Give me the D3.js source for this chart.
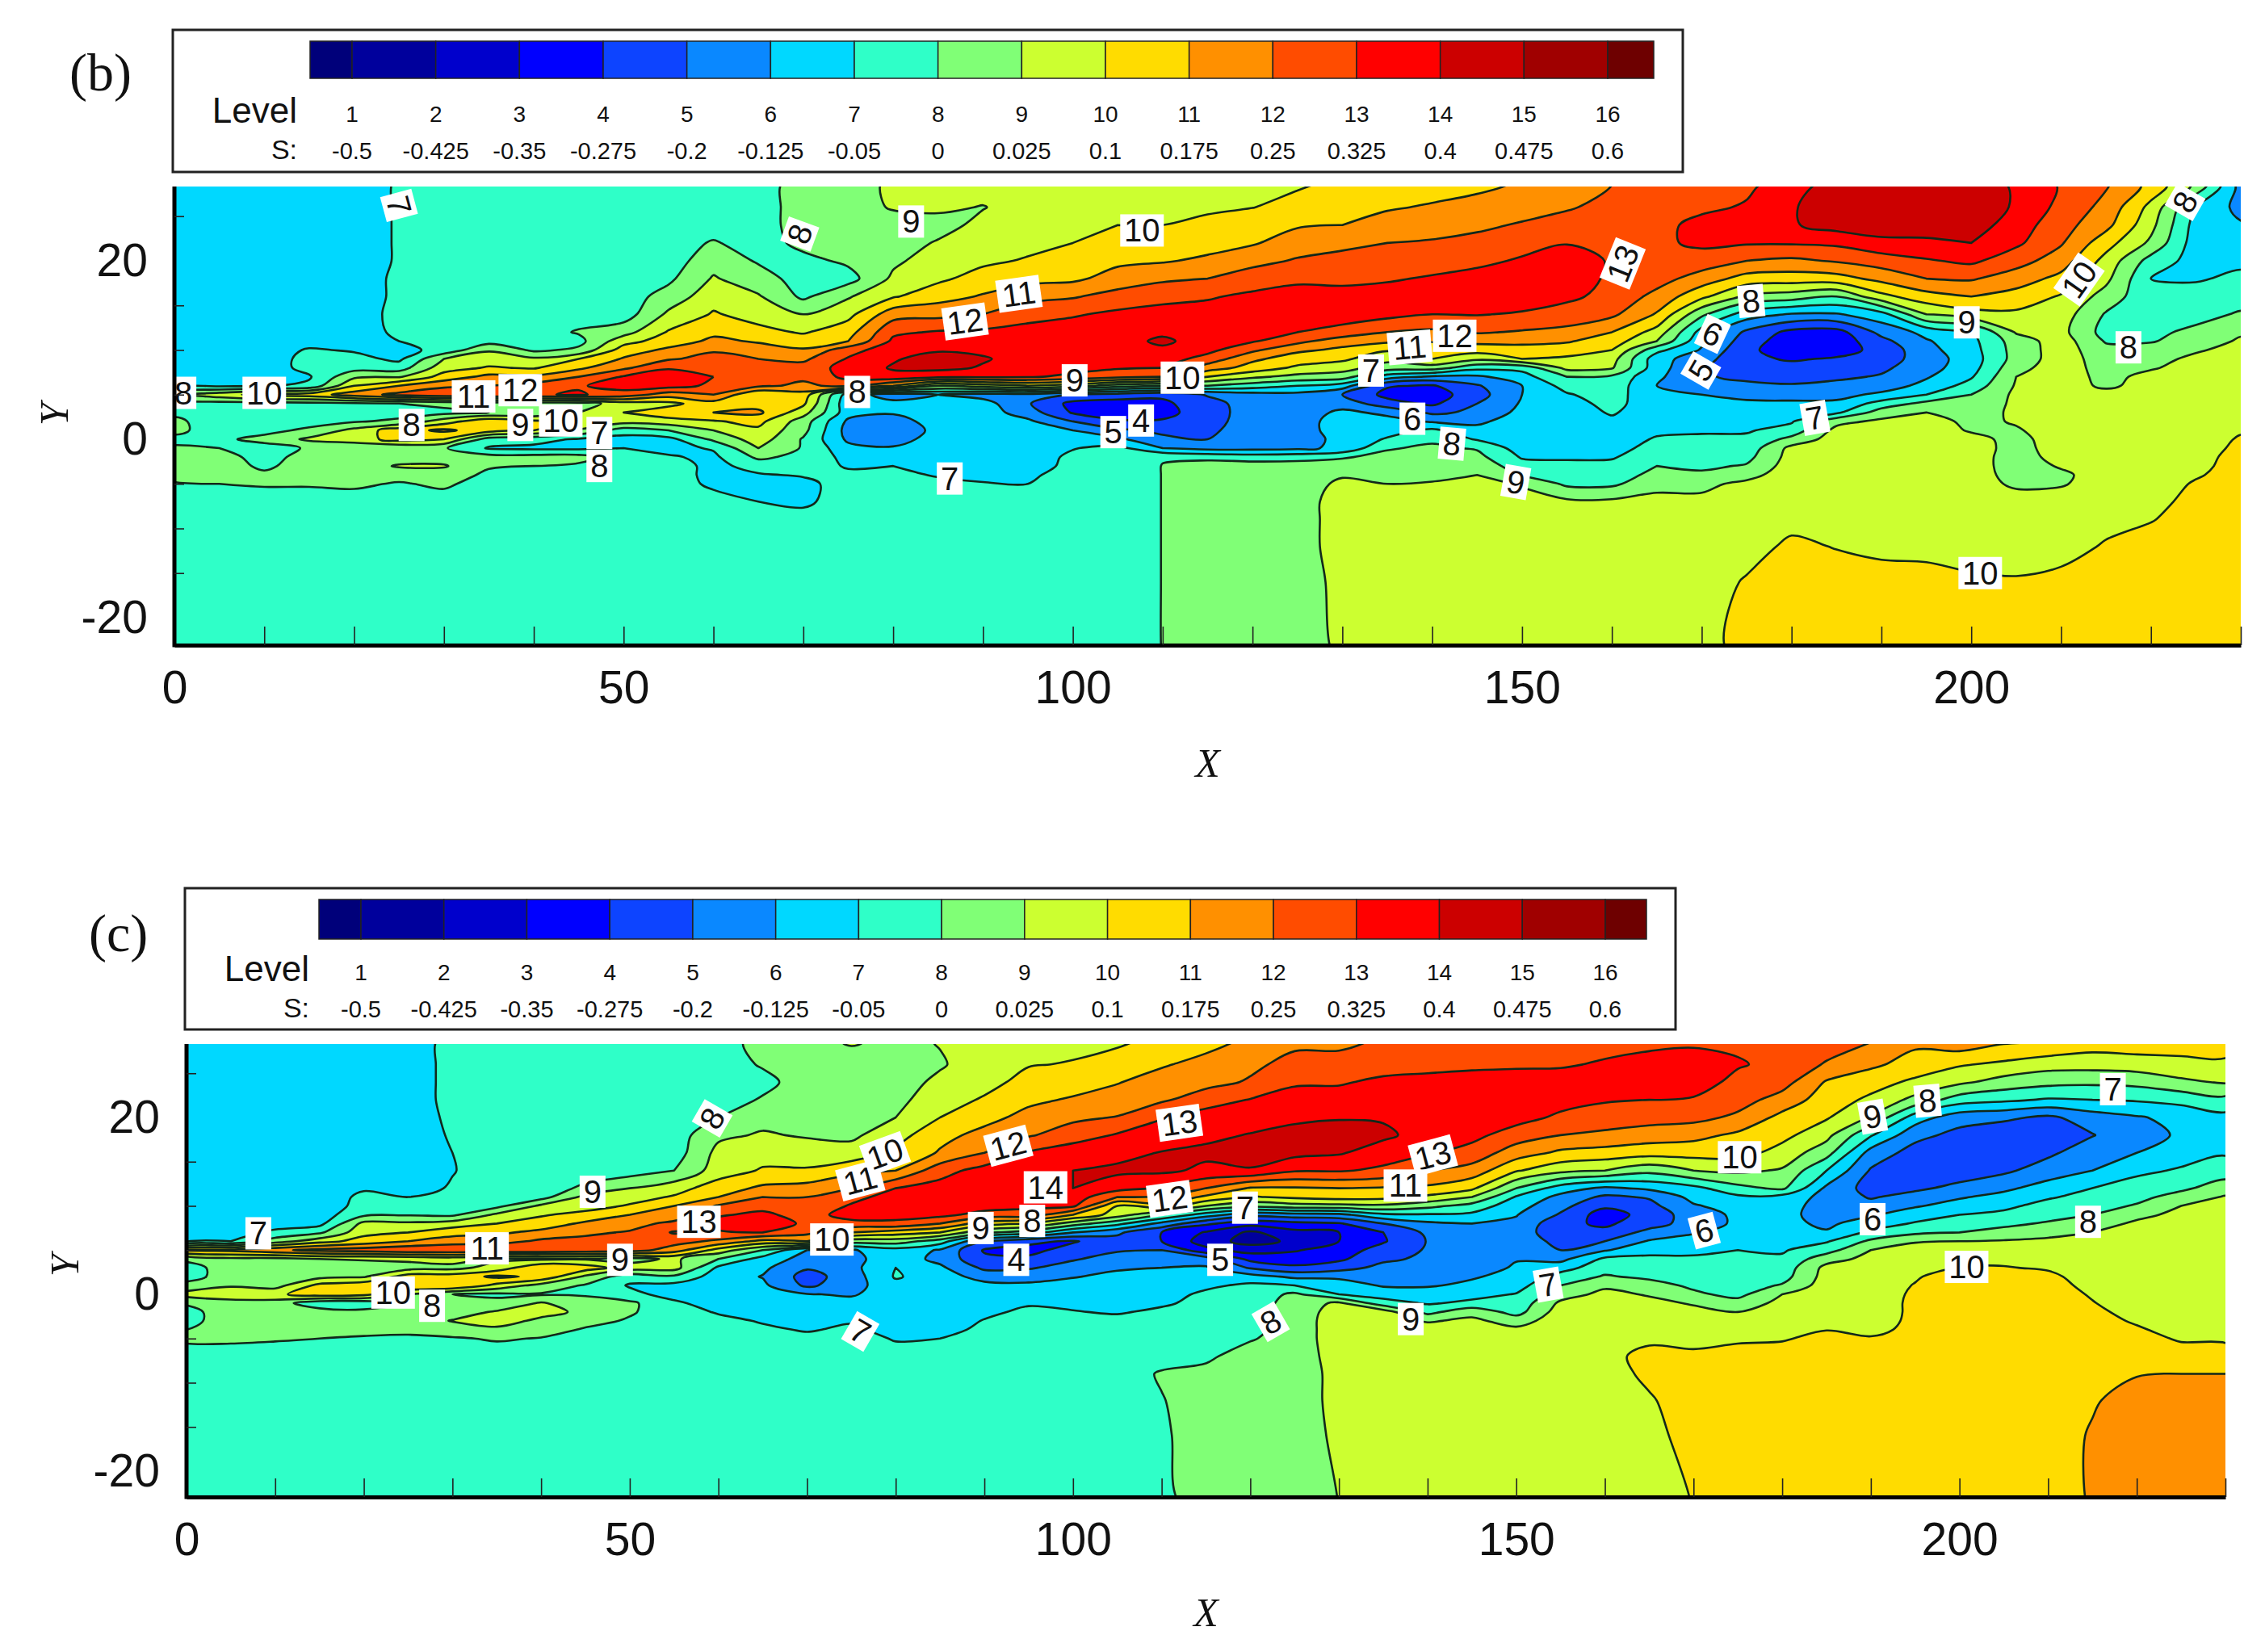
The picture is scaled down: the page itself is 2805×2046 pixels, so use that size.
<!DOCTYPE html>
<html>
<head>
<meta charset="utf-8">
<style>
    html, body { margin: 0; background: white; }
    text { font-family: 'Liberation Sans', Arial, sans-serif; fill: #111; }
    .panelTag, .axisName { font-family: 'Liberation Serif', serif; }
    .axisName { font-style: italic; }
</style>
<script src="https://cdn.jsdelivr.net/npm/d3@7"></script>
</head>
<body>
<div id="chart"></div>
<script>
var levelNames = [1, 2, 3, 4, 5, 6, 7, 8, 9, 10, 11, 12, 13, 14, 15, 16];
var sValues = ['-0.5', '-0.425', '-0.35', '-0.275', '-0.2', '-0.125', '-0.05', '0', '0.025', '0.1', '0.175', '0.25', '0.325', '0.4', '0.475', '0.6'];
var bandColors = ['#00007a', '#00009c', '#0000cc', '#0000ff', '#0d44ff', '#0a88ff', '#00d8ff', '#2fffc8', '#80ff76', '#ccff30', '#ffdc00', '#ff9000', '#ff4c00', '#ff0000', '#cc0000', '#a00000', '#6e0000'];

var xTicks = [0, 10, 20, 30, 40, 50, 60, 70, 80, 90, 100, 110, 120, 130, 140, 150, 160, 170, 180, 190, 200, 210, 220, 230];
var yLabelTicks = [-20, 0, 20];
var yMinorTicks = [-15, -10, -5, 5, 10, 15, 25];

// sample stations of the level field
var gridX = [0, 5, 10, 15, 20, 25, 30, 35, 40, 45, 50, 55, 60, 65, 70, 75, 80, 85, 90, 95, 100, 105, 110, 115, 120, 125, 130, 135, 140, 145, 150, 155, 160, 165, 170, 175, 180, 185, 190, 195, 200, 205, 210, 215, 220, 225, 230];
var gridY = [-23, -16, -12, -9, -7, -5, -4, -3, -2, -1, 0, 1, 2, 3, 4, 5, 6, 7, 8, 9, 10, 11, 12, 14, 16, 18, 20, 22, 24, 26, 28.5];

// level value, one line per X station, going up in Y
var fieldB = [
    [7.5,7.5,7.5,7.5,7.5, 7.9,8.4,8.5,8.5,8.1, 7.8,8.2,8.2,7.8,7.5, 9,6.8,6.5,6.5,6.5, 6.5,6.5,6.5,6.5,6.5, 6.5,6.5,6.5,6.5,6.5,6.5],
    [7.5,7.5,7.5,7.5,7.5, 8,8.4,8.5,8.4,8, 7.8,7.6,7.5,7.5,7.6, 9.6,6.8,6.5,6.5,6.5, 6.5,6.5,6.5,6.5,6.5, 6.5,6.5,6.5,6.5,6.5,6.5],
    [7.5,7.5,7.5,7.5,7.5, 8.1,8.2,7.8,7.6,7.6, 8.3,7.7,7.5,7.5,7.6, 10.4,6.9,6.5,6.5,6.5, 6.5,6.5,6.5,6.5,6.5, 6.5,6.5,6.5,6.5,6.5,6.5],
    [7.5,7.5,7.5,7.5,7.5, 8.1,8.4,8.5,8.4,8.1, 9.2,8.2,7.6,7.5,7.7, 10.5,7.2,6.9,7.3,7.3, 7.1,6.6,6.5,6.5,6.5, 6.5,6.5,6.5,6.5,6.5,6.5],
    [7.5,7.5,7.5,7.5,7.5, 8.2,8.5,8.5,8.5,8.2, 9.5,9.3,7.9,7.5,7.8, 11.5,10,8.8,7.6,7.3, 6.9,6.6,6.5,6.5,6.5, 6.5,6.5,6.5,6.5,6.5,6.5],
    [7.5,7.5,7.5,7.5,7.5, 7.9,8.4,9.1,8.5,8.1, 10.4,10.6,8.2,7.6,8, 12.3,11,8.9,7.5,6.8, 6.7,7,7.2,7.3,7.2, 7.2,7.1,7.1,7.1,7.1,7.1],
    [7.5,7.5,7.5,7.5,7.5, 8.2,8.5,9.1,8.5,8.1, 10,11.2,9.5,7.7,8.3, 12.7,11.8,10.4,9.6,9, 7.3,7.4,7.5,7.5,7.5, 7.5,7.5,7.5,7.5,7.5,7.5],
    [7.5,7.5,7.5,7.5,7.5, 7.5,7.8,8.1,8.4,6.9, 7.5,10.5,10.8,8,8.4, 12.9,12,11.3,10.1,9.5, 8.9,7.6,7.5,7.5,7.5, 7.5,7.5,7.5,7.5,7.5,7.5],
    [7.5,7.5,7.5,7.5,7.5, 7.5,7.6,8,8.4,6.8, 7.3,10,10.2,8.1,8.5, 12.9,12.4,11.2,9.9,9.2, 7.8,7.5,7.5,7.5,7.5, 7.5,7.5,7.5,7.5,7.5,7.5],
    [7.5,7.5,7.5,7.5,7.5, 7.5,7.5,7.8,8.4,6.8, 6.9,8.9,10,9,8.5, 13.1,12.9,12,10.8,10, 8.2,7.7,8.1,7.5,7.5, 7.5,7.5,7.5,7.5,7.5,7.5],
    [7.5,7.5,7.5,7.5,7.5, 7.5,7.5,7.5,7.5,7, 6.6,7.5,9.4,10,9.5, 12.6,13.4,13.1,11.8,11.1, 10.5,9.6,8.6,7.5,7.5, 7.5,7.5,7.5,7.5,7.5,7.5],
    [7.5,7.5,7.5,7.5,7.5, 7.5,7.5,7.5,7.1,6.7, 6.7,8,9.6,10.6,9.7, 11.5,13.4,13.6,12.9,11.9, 11.2,10.5,10.1,9.2,8.4, 7.8,7.5,7.5,7.5,7.5,7.5],
    [7.5,7.5,7.5,7.5,7.4, 6.8,6.7,6.7,6.8,7.1, 8.2,9,9.9,11,10.6, 12,12.8,13,12.7,12.3, 11.9,11.2,10.8,10.1,9.6, 9.1,8.6,8.1,7.5,7.5,7.5],
    [7.5,7.5,7.5,7.5,7, 6.7,6.9,7.4,8.2,9, 9.5,9.8,10.3,11.2,10.6, 10,12.2,12.4,12.3,12, 11.4,10.9,10.3,9.6,9.1, 8.4,7.9,7.5,7.5,7.5,7.5],
    [7.5,7.5,7.5,7.4,6.8, 6.7,7.1,7.5,7.7,7.9, 7.9,8.3,8.5,9.4,10.2, 10.6,11.8,12.2,12.4,11.8, 11.1,10.5,9.9,9,7.8, 7.6,7.7,8.3,8.5,8.5,8.5],
    [7.5,7.5,7.5,7.5,7.5, 7.5,7.2,6.9,6.7,6.3, 5.8,5.6,5.8,6.4,6.2, 6.5,12.3,13.3,13.4,13.1, 12.6,11,10.6,9.7,8.9, 7.6,8.2,8.5,8.5,8.5,8.5],
    [7.5,7.5,7.5,7.5,7.5, 7.5,7.3,7,6.7,6.1, 5.6,5.5,5.6,6.1,6.3, 5.5,11,13.7,14.1,13.9, 13.6,13.2,12.8,11.6,9.9, 9.2,8.8,8.5,8.5,9.1,9.2],
    [7.5,7.5,7.5,7.5,7.5, 7.3,6.9,6.6,6.5,6.6, 6.4,6.2,6.4,6.5,6.5, 6,9,13.2,14.3,14.4, 13.9,13.5,13.1,11.7,10.6, 9.8,9.5,9.1,8.6,9.2,9.5],
    [7.5,7.5,7.5,7.5,7.5, 7.1,6.6,6.5,6.5,6.5, 6.5,6.5,6.5,6.5,6.4, 5.6,9.5,13.2,13.9,14.1, 13.8,13.5,13.2,12,11.1, 10.4,9.8,9.5,9.3,8.95,9.5],
    [7.5,7.5,7.5,7.5,7.4, 7,6.8,6.5,6.5,6.5, 6.5,6.4,6.2,5.5,5.1, 5.7,10,13.1,13.5,13.6, 13.6,13.5,13.3,12.7,11.65, 10.7,10.1,9.7,9.5,9.5,9.5],
    [7.5,7.5,7.5,7.5,7.5, 7.5,7.45,7.3,7.2,6.95, 6.6,6,5,3.9,3.7, 4.9,9.5,12.8,13.3,13.5, 13.5,13.5,13.5,12.9,11.9, 10.8,10.4,10,9.7,9.5,9.5],
    [7.5,7.5,7.5,7.5,7.5, 7.5,7.5,7.5,7.5,7.3, 6.2,5.2,4.1,3.6,3.5, 4.6,8.5,12.3,13.1,13.4, 13.5,13.6,13.6,13.2,12.4, 11.4,10.8,10.4,10,9.7,9.5],
    [8.02,8.02,8.02,8.02,8.02, 8.02,8.02,8.02,7.95,6, 5.2,4.8,4.1,3.7,3.8, 4.2,8,12,13,13.5, 13.8,14.2,13.8,13.5,12.6, 11.85,10.9,10.4,10,9.8,9.5],
    [8.5,8.5,8.5,8.5,8.5, 8.5,8.5,8.5,7.7,5.7, 5,4.8,4.6,4.5,4.6, 5.1,8,10,11.5,12.6, 13.3,13.5,13.6,13.4,12.9, 12,11.2,10.6,10.3,9.8,9.6],
    [8.5,8.5,8.5,8.5,8.5, 8.5,8.5,8.5,7.5,5.7, 5.5,5.5,5.5,5.5,5.5, 5.6,7.5,9.2,10.6,11.2, 12.2,13.1,13.3,13.5,13.2, 12.5,11.7,10.9,10.5,9.98,9.7],
    [8.5,8.5,8.5,8.5,8.5, 8.5,8.5,8.5,7.6,5.8, 5.5,5.5,5.5,5.5,5.5, 5.7,7,8.7,9.8,10.5, 11.2,12.3,13,13.5,13.4, 12.8,12.1,11.5,10.9,10.3,9.9],
    [9.2,9.3,9.5,9.5,9.5, 9.2,8.9,8.5,7.9,6.2, 6.3,6.5,6.5,6.2,5.6, 5,6.5,8.5,9.4,10.2, 10.8,11.4,12.7,13.4,13.3, 12.8,12.4,11.7,11,10.6,10.2],
    [9.5,9.5,9.5,9.5,9.5, 9,8.6,8.5,8.3,7.9, 7.1,6.6,6.3,5.8,4.4, 3.7,4.1,6.5,8.5,9.3, 10.1,11.2,12,13.3,13.4, 12.9,12.6,12,11.4,10.9,10.5],
    [9.5,9.5,9.5,9.5,9.5, 9.1,8.7,8.5,8.4,8.2, 7.8,7.2,5.9,4.8,3.8, 3.5,3.9,5.8,8.5,10, 10.2,11.1,11.8,13,13.4, 13.1,12.6,12.1,11.6,11.1,10.6],
    [9.5,9.5,9.5,9.5,9.5, 9.3,9,8.7,8.3,7.9, 6.9,6.3,5.8,5.2,5, 4.6,4.9,5.8,7.3,9.2, 10.4,11.3,12.1,13.05,13.6, 13.3,12.8,12.3,11.8,11.3,10.8],
    [9.5,9.5,9.5,9.5,9.4, 8.9,7.9,7.4,6.9,6.5, 6.5,6.5,6.5,6.3,6.1, 6,6,6.6,7.3,10, 10.7,11.2,11.9,12.9,13.5, 13.4,13.1,12.7,12.1,11.6,11.1],
    [9.5,9.5,9.5,9.5,9.2, 7.8,7.5,7.2,6.9,6.5, 6.5,6.5,6.5,6.5,6.5, 6.9,7.4,8,9.3,9.8, 10.5,11.1,11.7,12.6,13.2, 13.6,13.5,12.95,12.4,11.9,11.5],
    [9.5,9.5,9.5,9.5,9.2, 7.8,7.5,7.3,6.9,6.6, 6.5,6.6,6.8,7.1,7.4, 7.5,7.6,7.8,9.1,9.4, 10,10.5,11,12.2,12.7, 12.8,12.9,12.8,12.6,12.3,12],
    [9.5,9.5,9.5,9.5,9.3, 8.7,8.3,8,7.7,7.4, 7.1,6.8,6.5,6.4,6.2, 6.1,6,6.2,6.4,6.4, 7.3,9,9.6,10.9,11.7, 12.4,12.6,12.8,12.7,12.4,12],
    [9.6,9.5,9.5,9.5,9.2, 8.8,8.2,7.8,7.5,7.3, 7.15,6.9,6.6,6.4,6.2, 6,5.5,5.1,5.1,5.4, 5.9,6.2,6.6,8.2,10.25, 11.55,12.55,13.2,13.3,12.8,12.3],
    [10.4,10.1,9.6,9.5,9.5, 9.2,8.7,8.1,7.7,7.4, 7.2,6.9,6.6,6.4,6.2, 5.7,5.2,4.8,4.5,4.2, 4.2,4.5,4.8,6.5,8.8, 10.6,12,13.1,13.4,13.1,12.8],
    [10.5,10.5,10.2,9.7,9.5, 9.5,9.5,9.5,9.4,9.3, 8.3,7.4,6.9,6.6,6.2, 5.6,5.1,4.6,4.3,3.9, 3.5,3.4,3.7,5.9,8.5, 10.5,11.8,13.1,13.9,13.9,13.5],
    [10.5,10.5,9.95,9.5,9.5, 9.5,9.5,9.5,9.5,9.5, 9.5,9.3,8.7,6.8,6.2, 5.7,5.3,4.8,4.5,4.1, 3.6,3.4,3.6,5.9,8, 10.6,12.1,13.2,14.4,14.6,14.5],
    [10.5,10.5,9.7,9.5,9.5, 9.5,9.5,9.5,9.5,9.5, 9.5,9.5,9.2,8.5,7.4, 6.2,5.5,5.1,4.8,4.5, 4.3,4.7,5.3,6.6,9.7, 11.3,12.5,13.7,14.6,14.7,14.7],
    [10.5,10.5,9.6,9.5,9.5, 9.5,9.5,9.5,9.5,9.5, 9.5,9.5,9.5,9,8.3, 7,6.3,5.9,5.6,5.5, 5.7,5.9,6.3,9,10.6, 12,12.9,13.8,14.5,14.6,14.6],
    [10.5,10.2,9.5,9.5,9.5, 9.5,9.5,9.5,9.5,9.5, 9.3,8.9,8.7,8.5,8.3, 8,7.4,6.9,6.6,6.5, 6.6,6.7,6.9,9.6,11, 12.1,13.2,14,14.5,14.5,14.4],
    [10.6,10.1,9.5,9.5,9.5, 8.8,8.6,8.5,8.5,8.6, 8.7,8.9,9.1,9.2,9.2, 9.2,9.1,9,8.7,8.4, 8.4,8.5,9.1,9.8,10.6, 11.5,12.4,13.2,13.5,13.9,13.9],
    [10.6,10.3,9.6,9.5,9.5, 8.9,8.8,9.1,9.4,9.5, 9.5,9.5,9.5,9.5,9.5, 9.5,9.5,9.5,9.5,9.5, 9.5,9.5,9.3,9.5,9.9, 10.7,11.5,12.1,12.4,12.7,12.9],
    [10.7,10.5,10.1,9.7,9.5, 9.5,9.5,9.5,9.5,9.5, 9.5,9.5,9.5,9.5,9.5, 9.4,8.8,8.7,8.6,8.5, 8.3,7.9,7.6,7.9,8.6, 9.25,9.65,10.4,11.3,11.7,12.1],
    [10.7,10.6,10.4,9.95,9.7, 9.5,9.5,9.5,9.5,9.5, 9.5,9.5,9.5,9.5,9.5, 9.5,9.4,9.3,8.9,8.7, 8.5,7.9,7.8,7.5,7.2, 7,7.6,8.8,9.3,9.7,10.7],
    [10.7,10.7,10.5,10.4,10.3, 10.1,9.9,9.8,9.7,9.6, 9.5,9.5,9.5,9.5,9.5, 9.5,9.5,9.5,9.4,9.2, 8.9,8.6,8.2,7.7,7.4, 6.9,6.6,6.5,6.6,6.9,8.8],
    [10.7,10.7,10.7,10.6,10.5, 10.4,10.4,10.3,10.3,10.2, 10.1,9.9,9.7,9.6,9.5, 9.5,9.5,9.5,9.5,9.4, 9.3,9.1,8.9,8.1,7.6, 7.2,6.8,6.5,6.1,5.7,5.6]
];

var fieldC = [
    [7.5,7.5,7.5,7.5,7.5, 8.2,8,7.7,7.7,8.1, 9.4,8.3,7.6,7.6,8.2, 11.2,6.8,6.5,6.5,6.5, 6.5,6.5,6.5,6.5,6.5, 6.5,6.5,6.5,6.5,6.5,6.5],
    [7.5,7.5,7.5,7.5,7.5, 8.2,8.5,8.5,8.5,8.6, 9.6,8.9,8.5,8.5,8.7, 11.3,7,6.6,6.5,6.5, 6.5,6.5,6.5,6.5,6.5, 6.5,6.5,6.5,6.5,6.5,6.5],
    [7.5,7.5,7.5,7.5,7.5, 8.1,8.5,8.5,8.5,8.5, 9.8,8.6,8.5,8.5,8.7, 11.8,8.5,7.2,6.6,6.5, 6.5,6.5,6.5,6.5,6.5, 6.5,6.5,6.5,6.5,6.5,6.5],
    [7.5,7.5,7.5,7.5,7.5, 8,8.4,8.5,8.5,7.3, 10.5,10.3,8.7,8.5,9, 12.3,9.6,7.8,6.7,6.5, 6.5,6.5,6.5,6.5,6.5, 6.5,6.5,6.5,6.5,6.5,6.5],
    [7.5,7.5,7.5,7.5,7.5, 7.8,8.5,8.5,8.3,7.3, 10.3,10.7,8.9,8.5,9.1, 12.5,10.4,9.7,9.3,7.8, 7.3,7.2,6.9,6.5,6.5, 6.5,6.5,6.5,6.5,6.5,6.5],
    [7.5,7.5,7.5,7.5,7.5, 7.7,8.4,8.5,8.4,8, 9,11,10.5,8.6,9.2, 12.8,11,10,9.2,7.9, 7.5,7,6.6,6.5,6.5, 6.5,6.5,6.5,6.5,6.5,6.5],
    [7.5,7.5,7.5,7.5,7.5, 7.9,8.5,9.05,8.6,8.1, 8,11,10.5,8.7,9.4, 12.9,11.5,10.6,9.5,7.8, 7.5,7.1,7.1,6.95,7, 7.1,7.2,7.3,7.3,7.3,7.3],
    [7.5,7.5,7.5,7.5,7.5, 8.1,8.8,9.4,9.1,8.3, 7.8,9.7,11.2,9.4,8.8, 12.9,11.6,10.8,10,9.2, 7.7,7.5,7.5,7.5,7.5, 7.5,7.5,7.5,7.5,7.5,7.5],
    [7.5,7.5,7.5,7.5,7.5, 7.95,8.4,8.8,9.3,9.1, 7.9,8.6,10.8,10.9,8.8, 12.9,12.2,11.3,10.4,9.9, 9.2,7.6,7.5,7.5,7.5, 7.5,7.5,7.5,7.5,7.5,7.5],
    [7.5,7.5,7.5,7.5,7.5, 7.5,7.9,8.3,8.8,8.4, 7.9,7.9,8.8,10.5,8.9, 12.7,12.3,11.8,11.2,10.3, 9.6,9.3,8.2,7.5,7.5, 7.5,7.5,7.5,7.5,7.5,7.5],
    [7.5,7.5,7.5,7.5,7.5, 7.5,7.5,7.9,8.1,8.2, 7.3,6.9,7.4,9.5,8.6, 12.5,12.5,12.1,11.6,11, 10.1,9.6,9,7.5,7.5, 7.5,7.5,7.5,7.5,7.5,7.5],
    [7.5,7.5,7.5,7.5,7.5, 7.5,7.5,7.5,7.5,7.2, 6.6,6.7,7.8,9.4,9.2, 11.5,12.4,13.1,12.3,11.3, 11,10.1,9.6,8,7.5, 7.5,7.5,7.5,7.5,7.5,7.5],
    [7.5,7.5,7.5,7.5,7.5, 7.5,7.5,7.3,6.9,6.5, 6.5,6.5,6.5,6.8,8, 9.6,11.8,12.9,13.3,12.9, 12.1,11,10.5,9.5,9.3, 8.8,8,7.5,7.5,7.5,7.5],
    [7.5,7.5,7.5,7.5,7.5, 7.5,7.2,6.9,6.6,6.5, 6.4,6.2,5.95,6.2,6.6, 8,10.7,13,13.3,13.2, 12.7,12,11.2,10.1,9.6, 9.1,8.7,8.1,7.7,8.1,8.4],
    [7.5,7.5,7.5,7.5,7.5, 7.3,6.9,6.6,6.5,6.4, 6.05,4.8,4.6,5.1,5.6, 6,11,12.3,12.9,12.6, 12.3,12,11.4,10.1,9.5, 8.9,8.6,8.5,8.5,8.5,8.6],
    [7.5,7.5,7.5,7.5,7.5, 7.5,7.2,6.9,6.5,6.3, 5.9,5.6,5.5,5.7,5.7, 5.9,8.5,11,12.7,13.4, 13.1,12.7,12,10.7,9.4, 8.8,8.5,8.5,8.5,8.5,9.1],
    [7.5,7.5,7.5,7.5,7.5, 6.9,6.6,6.5,6.5,6.5, 6.5,6.7,7.1,7,6.6, 6.6,8.5,10.5,12.8,13.3, 13.6,13.4,13,11,10.2, 9.6,9,8.7,8.6,8.6,8.7],
    [7.5,7.5,7.5,7.5,7.5, 7,6.7,6.5,6.5,6.5, 6.5,6.5,6.5,6.2,5.7, 5.9,7.5,10,12,13.3, 13.5,13.5,13.4,12.6,11.1, 10.7,10,9.6,9.2,8.9,9.05],
    [7.5,7.5,7.5,7.5,7.5, 7.4,7.2,7.05,6.8,6.6, 6.5,6.3,5.6,4.8,4.2, 3.9,5,8.2,10.5,12.6, 13.5,13.6,13.7,13.4,12, 11.3,10.7,10.1,9.7,9.5,9.5],
    [7.5,7.5,7.5,7.5,7.5, 7.5,7.5,7.4,7.2,6.9, 6.6,6.2,5.6,4.9,4.2, 3.7,4.2,7.5,10,12.6, 13.2,13.5,13.8,13.9,13.1, 11.9,11.3,10.8,10.3,9.95,9.6],
    [7.5,7.5,7.5,7.5,7.5, 7.5,7.5,7.5,7.05,6.8, 6.6,6.3,5.95,5.4,4.9, 4.4,3.9,6,8.5,11, 13.2,13.6,14,14,13.6, 12.5,11.8,11.1,10.6,10.05,9.8],
    [7.5,7.5,7.5,7.5,7.5, 7.5,7.5,7.3,6.9,6.7, 6.5,6.4,6.2,5.9,5.4, 4.9,4.6,5.2,7.3,9.5, 10,12,13.4,14.2,13.7, 13.1,12.05,11.4,10.95,10.3,9.9],
    [7.75,7.85,7.95,8.1,7.6, 7.5,7.5,7.5,7.2,6.85, 6.6,6.4,6.2,6,5.5, 5,4,4,5.7,8, 10.7,11.9,12.9,14.2,14.05, 13.45,12.95,11.85,11.4,10.9,10.2],
    [8.5,8.5,8.5,8.3,7.8, 7.5,7.5,7.5,7.4,7.3, 7.2,6.8,6.5,6.1,5.5, 3.3,2.5,2.9,4.2,6.5, 9,10.8,12,13.8,14.2, 13.8,13.5,12.5,11.7,11.3,10.7],
    [8.5,8.5,8.5,8.5,8.5, 7.9,7.7,7.6,7.55,7.5, 7.4,7.2,6.4,4.9,3.7, 2.6,1.6,1.8,3.4,5.3, 8.3,9.9,10.9,13.9,14.5, 14.05,13.6,13.05,12.1,11.8,11.2],
    [8.5,8.5,8.5,8.5,8.5, 8.5,8.5,8.5,8.5,8.4, 8.2,7,5.8,4.2,3.5, 2.9,2.2,2.7,3.7,5.6, 8.6,10.2,10.9,13.1,14.3, 14.5,13.7,13.3,12.9,12.3,11.8],
    [9.02,9.2,9.3,9.3,9.4, 9.5,9.5,9.5,9.4,9.2, 7,6.5,5.8,4.6,3.8, 3.5,3,3,3.9,5.7, 8.7,10.4,11,13.1,14.1, 14.3,13.95,13.4,12.9,12.5,11.7],
    [9.5,9.5,9.5,9.5,9.5, 9.5,9.5,9.5,9.5,7.4, 6.6,5.9,5.6,5.3,4.8, 4.4,3.9,4,5,6.8, 8.8,10.3,10.9,12.8,13.5, 14.2,13.9,13.7,13.2,12.6,12.2],
    [9.5,9.5,9.5,9.5,9.5, 9.5,9.5,8.9,7.7,6.9, 6.5,5.9,5.6,5.4,5.2, 5.1,5.05,5.2,5.8,6.9, 8.3,9.8,10.8,12,13.1, 13.6,13.7,13.5,13.2,12.8,12.4],
    [9.5,9.5,9.5,9.5,9.5, 9.5,9.4,9.2,8.7,7.2, 6.7,6.2,5.9,5.6,5.4, 5.2,5.2,5.4,6,6.8, 7.6,9,10.2,11.6,12.6, 13.3,13.6,13.5,13.2,12.9,12.5],
    [9.5,9.5,9.5,9.5,9.5, 9.5,9.2,8.6,7.6,7.3, 7.05,6.6,6.3,6.1,5.95, 5.8,5.6,5.5,5.8,6.05, 6.4,6.9,8,10.1,11.5, 12.5,13.4,13.5,13.3,12.9,12.6],
    [9.5,9.5,9.5,9.5,9.5, 9.5,9.5,9.5,9.5,9.2, 8.5,8,7.4,6.6,5.7, 5,4.7,4.4,4.3,4.9, 5.3,5.7,6.5,9.3,10.8, 12,12.8,13.4,13.4,12.9,12.6],
    [9.6,9.6,9.6,9.6,9.7, 9.7,9.6,9.5,9.5,9.5, 9.3,8.8,8.1,7.6,7.2, 5.9,5,4.3,3.8,3.5, 4.2,4.8,5.8,9,10.6, 11.8,12.5,13.1,13.6,13.1,12.7],
    [9.5,9.6,9.9,10.2,10.3, 9.8,9.6,9.5,9.5,9.3, 8.9,8.4,7.8,7.5,7.2, 6.7,6.1,5.3,4.6,4.4, 4.7,5.1,6.2,8.3,10.4, 11.5,12.4,13,13.6,13.3,12.8],
    [10.05,10.5,10.5,10.5,10.2, 9.7,9.6,9.5,9.3,8.9, 8.2,7.8,7.5,7.4,7.2, 6.7,6.4,5.9,5.4,5.5, 5.9,6.3,6.7,9,10.4, 11.3,12.3,12.9,13.5,13.3,12.9],
    [10.5,10.5,10.5,10.5,10.5, 9.8,9.6,9.5,9,8.4, 7.7,7.5,7.4,7.3,7.2, 7,6.6,6.4,6.2,6.2, 6.4,6.8,7.7,9.2,10.4, 10.8,11.8,12.4,12.7,13.1,12.8],
    [10.5,10.5,10.5,10.5,10.5, 9.9,9.7,9.6,9.5,9.3, 9,8.1,7.6,7.4,7.15, 6.9,6.6,6.4,6.3,6.3, 6.4,6.6,8.2,8.9,9.6, 10.3,10.7,11.6,12.4,12.7,12.8],
    [10.5,10.5,10.5,10.5,10.5, 10.3,9.97,9.8,9.7,9.6, 9.5,9.5,9.4,9.3,8.6, 7.6,6.9,6.1,5.8,5.6, 5.6,5.7,5.8,7,8.4, 9.3,10.1,10.5,10.9,11.9,12.5],
    [10.5,10.5,10.5,10.5,10.5, 10.1,9.7,9.6,9.5,9.5, 9.5,9.5,9.5,9.5,9.3, 9,8.2,7.2,6.5,5.9, 5.4,4.9,4.6,4.9,5.6, 7.1,8.9,9.8,10.4,11.2,12],
    [10.5,10.5,10.5,10.5,10.5, 10.5,10.3,10.2,10.2,10.2, 10.15,10.05,9.9,9.7,9.6, 9.5,8.9,7.8,7.1,6.5, 5.9,5.4,4.8,4.4,4.6, 5.3,6.5,8.7,9.8,10.6,11.2],
    [10.5,10.5,10.5,10.5,10.5, 10.5,10.5,10.5,10.5,10.5, 10.5,10.5,10.5,10.05,9.8, 9.6,9,8,7.5,7, 6.4,5.9,5.3,4.4,4.2, 4.7,5.4,7.5,9.2,10.1,11.6],
    [10.5,10.5,10.5,10.5,10.5, 10.5,10.5,10.5,10.5,10.5, 10.5,10.5,10.5,10.05,9.8, 9.7,9.1,8.3,7.8,7.2, 6.8,6.3,5.8,4.8,4.2, 4.3,5.2,7.2,8.6,9.8,11.1],
    [10.5,10.5,10.5,10.5,10.5, 10.5,10.5,10.5,10.5,10.5, 10.5,10.4,10.2,9.9,9.7, 9.6,9.2,8.7,8.1,7.7, 7.3,6.9,6.4,5.5,4.8, 4.2,4.8,6.9,8.3,9.4,11],
    [11.1,11.1,10.9,10.6,10.5, 10.5,10.4,10.3,10.2,10.05, 9.9,9.7,9.6,9.5,9.5, 9.4,9.3,9,8.5,8, 7.6,7.3,7,6,5.6, 4.95,5.5,7,8.2,9.4,10.5],
    [11.5,11.5,11.4,10.95,10.6, 10.3,10.1,9.9,9.7,9.5, 9.5,9.5,9.5,9.5,9.5, 9.5,9.5,9.5,9.2,8.7, 8.1,7.7,7.4,6.8,6, 5.7,5.9,7.1,8.3,9.5,10.6],
    [11.5,11.5,11.5,11,10.4, 9.9,9.7,9.5,9.5,9.5, 9.5,9.5,9.5,9.5,9.5, 9.5,9.5,9.5,9.5,9.3, 9,8.4,7.8,7.1,6.6, 6.1,6.3,7.3,8.8,9.7,10.5],
    [11.5,11.5,11.5,11,10.3, 9.9,9.7,9.5,9.5,9.5, 9.5,9.5,9.5,9.5,9.5, 9.5,9.5,9.5,9.5,9.5, 9.3,9.1,8.5,7.5,6.9, 6.6,6.7,7.7,9.1,9.8,10.5]
];

// contour labels: [text, X, Y, rotation]
var labelsB = [
    ['7', 25, 26.2, 75], ['8', 69.6, 23, -70], ['9', 82, 24.4, 0], ['10', 107.7, 23.4, 0],
    ['11', 94, 16.3, -8], ['12', 88, 13.2, -8], ['13', 161.2, 19.7, -68], ['8', 223.8, 26.6, -60],
    ['10', 212, 17.9, -55], ['8', 217.5, 10.3, 0], ['9', 199.5, 13.1, 0], ['8', 175.5, 15.5, -5],
    ['6', 171.2, 11.8, 25], ['5', 169.9, 7.7, -60], ['12', 142.5, 11.6, 0], ['11', 137.5, 10.3, -5],
    ['7', 133.2, 7.7, 0], ['10', 112.2, 6.9, 0], ['9', 100.2, 6.6, 0], ['6', 137.8, 2.3, 0],
    ['8', 142.2, -0.5, 5], ['9', 149.3, -4.8, 10], ['7', 182.6, 2.4, -10], ['10', 201, -15, 0],
    ['7', 86.3, -4.4, 0], ['5', 104.5, 0.8, 0], ['4', 107.6, 2.1, 0], ['8', 76, 5.3, 0],
    ['8', 47.3, -3, 0], ['7', 47.3, 0.7, 0], ['10', 43, 2.1, 0], ['9', 38.5, 1.6, 0],
    ['8', 26.4, 1.6, 0], ['12', 38.5, 5.5, 0], ['11', 33.3, 4.8, 0], ['10', 10, 5.2, 0], ['8', 1, 5.2, 0]
];
var labelsC = [
    ['8', 59.3, 19.9, -60], ['9', 45.8, 11.6, 0], ['7', 8.1, 6.9, 0], ['11', 33.9, 5.2, 0],
    ['13', 57.8, 8.2, 0], ['10', 72.8, 6.2, 0], ['9', 48.9, 3.9, 0], ['10', 23.3, 0.2, 0],
    ['8', 27.7, -1.3, 0], ['7', 76, -4.2, 30], ['11', 76, 12.9, -15], ['10', 78.8, 15.9, -20],
    ['12', 92.7, 16.8, -15], ['13', 112, 19.4, -8], ['14', 96.9, 12.1, 0], ['9', 89.6, 7.5, 0],
    ['8', 95.4, 8.3, 0], ['12', 110.9, 10.8, -8], ['7', 119.4, 9.8, 0], ['4', 93.6, 3.9, 0],
    ['5', 116.6, 3.9, 0], ['13', 140.6, 15.7, -15], ['11', 137.5, 12.3, 0], ['8', 122.3, -3.1, -30],
    ['9', 138.1, -2.8, 0], ['7', 153.6, 1.1, -10], ['6', 171.2, 7.2, -15], ['10', 175.2, 15.5, 0],
    ['9', 190.2, 20.1, -10], ['8', 196.4, 21.9, -5], ['7', 217.3, 23.2, 0], ['6', 190.2, 8.5, 0],
    ['8', 214.5, 8.2, 0], ['10', 200.8, 3.1, 0]
];

var panels = [
    {
        id: 'b', tag: '(b)', field: fieldB, labels: labelsB,
        left: 216, right: 2775, top: 231, bottom: 799, xMax: 230, yZero: 544, yUnit: 11.05,
        tagX: 86, tagY: 112, xNameY: 962, yNameX: 66, yNameY: 513,
        box: [214, 37, 2084, 213], bar: [384, 51, 2048, 97], firstLevel: 436, lastLevel: 1991, legendRight: 368
    },
    {
        id: 'c', tag: '(c)', field: fieldC, labels: labelsC,
        left: 231, right: 2756, top: 1293, bottom: 1854, xMax: 230, yZero: 1603, yUnit: 10.95,
        tagX: 110, tagY: 1178, xNameY: 2014, yNameX: 79, yNameY: 1567,
        box: [229, 1100, 2075, 1275], bar: [395, 1114, 2039, 1163], firstLevel: 447, lastLevel: 1988, legendRight: 383
    }
];

var svg = d3
    .select('#chart')
    .append('svg')
    .attr('width', 2805)
    .attr('height', 2046)
    .style('display', 'block')
    .style('background', 'white');

function drawLegend(p) {
    var g = svg.append('g').attr('class', 'legend');
    var offset = p.box[1] - 37;
    var levelX = d3.scaleLinear().domain([1, 16]).range([p.firstLevel, p.lastLevel]);

    g.append('rect')
        .attr('x', p.box[0])
        .attr('y', p.box[1])
        .attr('width', p.box[2] - p.box[0])
        .attr('height', p.box[3] - p.box[1])
        .attr('fill', 'white')
        .attr('stroke', '#222')
        .attr('stroke-width', 3);

    var edges = [p.bar[0]].concat(levelNames.map(levelX), [p.bar[2]]);
    g.selectAll('rect.cell')
        .data(bandColors)
        .enter()
        .append('rect')
        .attr('class', 'cell')
        .attr('x', (d, i) => edges[i])
        .attr('y', p.bar[1])
        .attr('width', (d, i) => edges[i + 1] - edges[i])
        .attr('height', p.bar[3] - p.bar[1])
        .attr('fill', d => d)
        .attr('stroke', '#222')
        .attr('stroke-width', 1.5);

    g.selectAll('text.level')
        .data(levelNames)
        .enter()
        .append('text')
        .attr('class', 'level')
        .attr('x', d => levelX(d))
        .attr('y', 151 + offset)
        .attr('text-anchor', 'middle')
        .attr('font-size', 28)
        .text(d => d);

    g.selectAll('text.sval')
        .data(sValues)
        .enter()
        .append('text')
        .attr('class', 'sval')
        .attr('x', (d, i) => levelX(levelNames[i]))
        .attr('y', 197 + offset)
        .attr('text-anchor', 'middle')
        .attr('font-size', 29)
        .text(d => d);

    g.append('text')
        .attr('x', p.legendRight)
        .attr('y', 152 + offset)
        .attr('text-anchor', 'end')
        .attr('font-size', 44)
        .text('Level');

    g.append('text')
        .attr('x', p.legendRight)
        .attr('y', 197 + offset)
        .attr('text-anchor', 'end')
        .attr('font-size', 34)
        .text('S:');
}

function drawPanel(p) {
    var xScale = d3.scaleLinear().domain([0, p.xMax]).range([p.left, p.right]);
    var yScale = d3.scaleLinear().domain([0, 1]).range([p.yZero, p.yZero - p.yUnit]);

    // d3.contours puts grid node i at coordinate i + 0.5
    var colToX = d3.scaleLinear().domain(gridX.map((d, i) => i + 0.5)).range(gridX);
    var rowToY = d3.scaleLinear().domain(gridY.map((d, i) => i + 0.5)).range(gridY);

    var flat = d3.merge(d3.transpose(p.field));
    var bands = d3
        .contours()
        .size([gridX.length, gridY.length])
        .thresholds(levelNames)(flat);

    // rounded rings instead of the raw marching squares polygons
    var ringLine = d3.line().curve(d3.curveCatmullRomClosed.alpha(0.5));
    function bandPath(band) {
        return band.coordinates.map(polygon => polygon.map(ring => {
            var pts = ring.slice(0, -1).map(pt => [xScale(colToX(pt[0])), yScale(rowToY(pt[1]))]);
            return ringLine(pts);
        }).join('')).join('');
    }

    svg.append('clipPath')
        .attr('id', 'clip-' + p.id)
        .append('rect')
        .attr('x', p.left)
        .attr('y', p.top)
        .attr('width', p.right - p.left)
        .attr('height', p.bottom - p.top);

    var plot = svg.append('g').attr('clip-path', `url(#clip-${p.id})`);

    plot.append('rect')
        .attr('x', p.left)
        .attr('y', p.top)
        .attr('width', p.right - p.left)
        .attr('height', p.bottom - p.top)
        .attr('fill', bandColors[0]);

    plot.selectAll('path.band')
        .data(bands)
        .enter()
        .append('path')
        .attr('class', 'band')
        .attr('d', bandPath)
        .attr('fill', d => bandColors[d.value])
        .attr('stroke', d => bandColors[d.value])
        .attr('stroke-width', 0.5);

    plot.selectAll('path.line')
        .data(bands)
        .enter()
        .append('path')
        .attr('class', 'line')
        .attr('d', bandPath)
        .attr('fill', 'none')
        .attr('stroke', '#12281a')
        .attr('stroke-width', 2.6)
        .attr('stroke-linejoin', 'round');

    // contour labels
    var labelGroup = plot.selectAll('g.contourLabel')
        .data(p.labels)
        .enter()
        .append('g')
        .attr('class', 'contourLabel')
        .attr('transform', d => `translate(${xScale(d[1])},${yScale(d[2])})rotate(${d[3]})`);

    labelGroup.append('rect')
        .attr('x', d => d[0].length > 1 ? -27 : -16)
        .attr('y', -20)
        .attr('width', d => d[0].length > 1 ? 54 : 32)
        .attr('height', 40)
        .attr('fill', 'white');

    labelGroup.append('text')
        .attr('text-anchor', 'middle')
        .attr('y', 14)
        .attr('font-size', 40)
        .text(d => d[0]);

    // axes
    var xAxis = d3
        .axisBottom(xScale)
        .tickValues(xTicks)
        .tickSizeInner(-23)
        .tickSizeOuter(0)
        .tickPadding(32)
        .tickFormat(d => d % 50 === 0 ? d : '');

    var xg = svg.append('g')
        .attr('class', 'xAxis')
        .attr('transform', `translate(0,${p.bottom})`)
        .call(xAxis);

    var yAxis = d3
        .axisLeft(yScale)
        .tickValues(yLabelTicks)
        .tickSize(0)
        .tickPadding(33)
        .tickFormat(d => d);

    var yg = svg.append('g')
        .attr('class', 'yAxis')
        .attr('transform', `translate(${p.left},0)`)
        .call(yAxis);

    var yMinor = d3
        .axisLeft(yScale)
        .tickValues(yMinorTicks)
        .tickSizeInner(-12)
        .tickSizeOuter(0)
        .tickFormat('');

    svg.append('g')
        .attr('class', 'yMinor')
        .attr('transform', `translate(${p.left},0)`)
        .call(yMinor)
        .select('.domain')
        .remove();

    yg.select('.domain').attr('d', `M0,${p.top}V${p.bottom + 2.5}`);

    svg.selectAll('.xAxis .domain, .yAxis .domain')
        .attr('stroke', 'black')
        .attr('stroke-width', 5);
    svg.selectAll('.xAxis line, .yMinor line')
        .attr('stroke', '#222')
        .attr('stroke-width', 1.6);
    xg.selectAll('text').attr('font-size', 57).attr('font-family', "'Liberation Sans', sans-serif");
    yg.selectAll('text').attr('font-size', 57).attr('font-family', "'Liberation Sans', sans-serif");

    // titles
    svg.append('text')
        .attr('class', 'panelTag')
        .attr('x', p.tagX)
        .attr('y', p.tagY)
        .attr('font-size', 66)
        .text(p.tag);

    svg.append('text')
        .attr('class', 'axisName')
        .attr('x', (p.left + p.right) / 2)
        .attr('y', p.xNameY)
        .attr('text-anchor', 'middle')
        .attr('font-size', 50)
        .text('X');

    svg.append('text')
        .attr('class', 'axisName')
        .attr('transform', `translate(${p.yNameX},${p.yNameY})rotate(-90)`)
        .attr('text-anchor', 'middle')
        .attr('dy', '0.35em')
        .attr('font-size', 50)
        .text('Y');
}

panels.forEach(p => {
    drawLegend(p);
    drawPanel(p);
});
</script>
</body>
</html>
